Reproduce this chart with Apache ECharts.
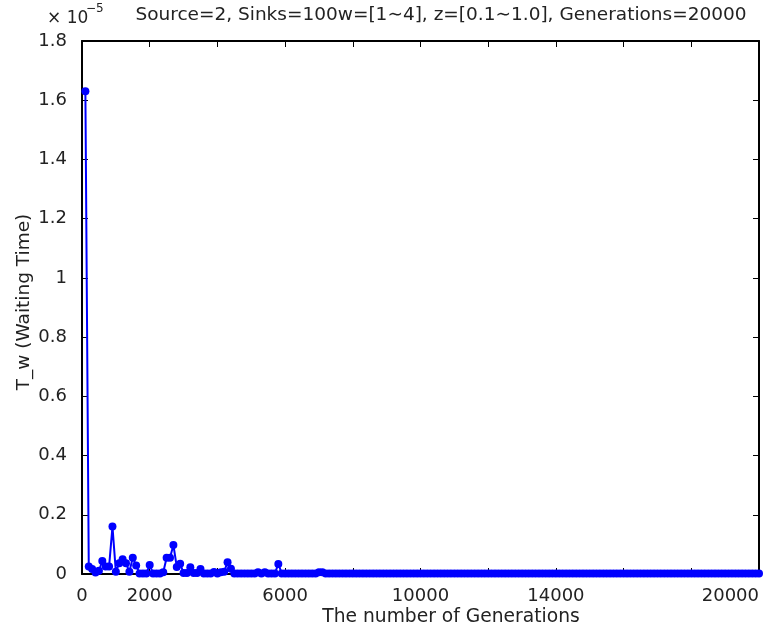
<!DOCTYPE html>
<html>
<head>
<meta charset="utf-8">
<script src="https://cdn.jsdelivr.net/npm/echarts@6/dist/echarts.min.js"></script>
<style>html,body{margin:0;padding:0;background:#fff}#c{width:772px;height:633px}</style>
</head>
<body>
<div id="c"></div>
<script>
// Waiting time T_w in units of 1e-5, sampled every 100 generations (100 .. 20000)
const waitingTime = [
  1.63, 0.025, 0.017, 0.005, 0.011, 0.044, 0.025, 0.025, 0.16, 0.008,
  0.036, 0.05, 0.036, 0.008, 0.055, 0.029, 0.002, 0.002, 0.002, 0.03,
  0.002, 0.002, 0.002, 0.006, 0.055, 0.055, 0.098, 0.024, 0.035, 0.003,
  0.003, 0.023, 0.003, 0.003, 0.017, 0.002, 0.002, 0.002, 0.007, 0.002,
  0.006, 0.008, 0.04, 0.018, 0.002, 0.002, 0.002, 0.002, 0.002, 0.002,
  0.002, 0.006, 0.002, 0.006, 0.002, 0.002, 0.002, 0.034, 0.002, 0.002,
  0.002, 0.002, 0.002, 0.002, 0.002, 0.002, 0.002, 0.002, 0.002, 0.006,
  0.006, 0.002, 0.002, 0.002, 0.002, 0.002, 0.002, 0.002, 0.002, 0.002,
  0.002, 0.002, 0.002, 0.002, 0.002, 0.002, 0.002, 0.002, 0.002, 0.002,
  0.002, 0.002, 0.002, 0.002, 0.002, 0.002, 0.002, 0.002, 0.002, 0.002,
  0.002, 0.002, 0.002, 0.002, 0.002, 0.002, 0.002, 0.002, 0.002, 0.002,
  0.002, 0.002, 0.002, 0.002, 0.002, 0.002, 0.002, 0.002, 0.002, 0.002,
  0.002, 0.002, 0.002, 0.002, 0.002, 0.002, 0.002, 0.002, 0.002, 0.002,
  0.002, 0.002, 0.002, 0.002, 0.002, 0.002, 0.002, 0.002, 0.002, 0.002,
  0.002, 0.002, 0.002, 0.002, 0.002, 0.002, 0.002, 0.002, 0.002, 0.002,
  0.002, 0.002, 0.002, 0.002, 0.002, 0.002, 0.002, 0.002, 0.002, 0.002,
  0.002, 0.002, 0.002, 0.002, 0.002, 0.002, 0.002, 0.002, 0.002, 0.002,
  0.002, 0.002, 0.002, 0.002, 0.002, 0.002, 0.002, 0.002, 0.002, 0.002,
  0.002, 0.002, 0.002, 0.002, 0.002, 0.002, 0.002, 0.002, 0.002, 0.002,
  0.002, 0.002, 0.002, 0.002, 0.002, 0.002, 0.002, 0.002, 0.002, 0.002
];
const generationStep = 100;
const generations = waitingTime.map((_, i) => (i + 1) * generationStep);

const xTickLabels = ['0', '2000', '6000', '10000', '14000', '20000'];
const yTickLabels = ['0', '0.2', '0.4', '0.6', '0.8', '1', '1.2', '1.4', '1.6', '1.8'];

const titleText = 'Source=2, Sinks=100w=[1\u223C4], z=[0.1\u223C1.0], Generations=20000';
const xName = 'The number of Generations';
const yName = 'T_w (Waiting Time)';

const FONT = 'DejaVu Sans';
const chart = echarts.init(document.getElementById('c'), null, {renderer: 'canvas'});

const axisCommon = {
  type: 'value',
  axisLine: {show: true, onZero: false, lineStyle: {color: '#000', width: 2}},
  axisTick: {show: true, inside: true, length: 6, lineStyle: {color: '#000', width: 1}},
  splitLine: {show: false}
};

chart.setOption({
  animation: false,
  backgroundColor: '#fff',
  grid: {left: 82, right: 13, top: 41, bottom: 59, containLabel: false},
  xAxis: [
    Object.assign({}, axisCommon, {
      position: 'bottom', min: 0, max: 20000, interval: 2000,
      axisLabel: {
        margin: 13, color: '#222', fontFamily: FONT, fontSize: 18,
        alignMaxLabel: 'right',
        formatter: v => (xTickLabels.indexOf(String(v)) >= 0 ? String(v) : '')
      }
    }),
    Object.assign({}, axisCommon, {
      position: 'top', min: 0, max: 20000, interval: 2000,
      axisLabel: {show: false}
    })
  ],
  yAxis: [
    Object.assign({}, axisCommon, {
      position: 'left', min: 0, max: 1.8, interval: 0.2,
      axisLabel: {
        margin: 15, color: '#222', fontFamily: FONT, fontSize: 18,
        padding: [0, 0, 7, 0],
        formatter: v => {
          const s = String(+v.toFixed(1));
          return yTickLabels.indexOf(s) >= 0 ? s : '';
        }
      }
    }),
    Object.assign({}, axisCommon, {
      position: 'right', min: 0, max: 1.8, interval: 0.2,
      axisLabel: {show: false}
    })
  ],
  series: [{
    type: 'line',
    xAxisIndex: 0, yAxisIndex: 0,
    data: generations.map((g, i) => [g, waitingTime[i]]),
    symbol: 'circle',
    symbolSize: 8,
    showAllSymbol: true,
    clip: false,
    lineStyle: {color: '#0000ff', width: 2},
    itemStyle: {color: '#0000ff'}
  }],
  graphic: [
    {type: 'text', x: 441, y: 15,
     style: {text: titleText, font: '18.5px "' + FONT + '"', fill: '#222', textAlign: 'center', textVerticalAlign: 'middle'}},
    {type: 'text', x: 47, y: 19,
     style: {text: '\u00D7 10', font: '17px "' + FONT + '"', fill: '#222', textAlign: 'left', textVerticalAlign: 'middle'}},
    {type: 'text', x: 86, y: 9,
     style: {text: '\u22125', font: '12px "' + FONT + '"', fill: '#222', textAlign: 'left', textVerticalAlign: 'middle'}},
    {type: 'text', x: 451, y: 617,
     style: {text: xName, font: '18.7px "' + FONT + '"', fill: '#222', textAlign: 'center', textVerticalAlign: 'middle'}},
    {type: 'text', x: 24, y: 302, rotation: Math.PI / 2,
     style: {text: yName, font: '18.5px "' + FONT + '"', fill: '#222', textAlign: 'center', textVerticalAlign: 'middle'}}
  ]
});
</script>
</body>
</html>
